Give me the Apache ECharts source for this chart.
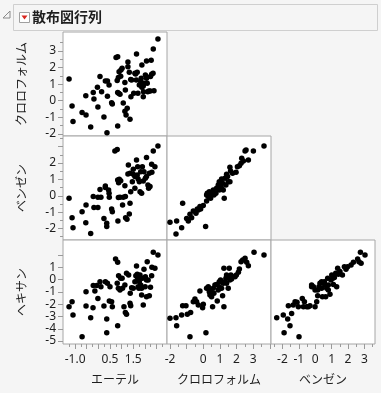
<!DOCTYPE html>
<html><head><meta charset="utf-8">
<script src="https://cdn.jsdelivr.net/npm/echarts@6/dist/echarts.min.js"></script>
<style>html,body{margin:0;padding:0;background:#f5f5f5;}#c{width:381px;height:393px;}</style>
</head><body><div id="c"></div>
<script>
// ---- variable names ----
const varEther = 'エーテル';
const varChloroform = 'クロロフォルム';
const varBenzene = 'ベンゼン';
const varHexane = 'ヘキサン';

// ---- tick labels ----
const etherTickLabels = ['-1.0', '0.5', '1.5'];
const chloroformXTickLabels = ['-2', '0', '1', '2', '3'];
const benzeneXTickLabels = ['-2', '-1', '0', '1', '2', '3'];
const chloroformYTickLabels = ['-2', '-1', '0', '1', '2', '3'];
const benzeneYTickLabels = ['-2', '-1', '0', '1', '2'];
const hexaneYTickLabels = ['-5', '-4', '-3', '-2', '-1', '0', '1'];

// ---- panel data: [x, y] ----
const chloroformVsEther = [[-1.26,1.31],[-1.13,-0.32],[-1.09,-1.26],[-0.70,-0.72],[-0.53,-0.86],[-0.54,0.30],[-0.33,-1.58],[-0.22,0.50],[-0.19,0.10],[-0.02,-0.38],[-0.04,0.81],[0.07,1.45],[0.14,0.54],[0.24,-0.98],[0.30,1.19],[0.37,-1.93],[0.39,1.19],[0.46,0.95],[0.39,0.27],[0.57,-0.12],[0.60,-0.20],[0.76,2.61],[0.83,2.65],[0.89,1.75],[0.86,1.39],[0.81,1.21],[0.83,0.50],[0.87,0.44],[0.83,-1.52],[0.97,1.85],[0.96,1.47],[0.93,0.38],[1.02,1.95],[1.07,-0.14],[1.14,1.09],[1.16,0.64],[1.14,-0.64],[1.19,-0.86],[1.24,-0.46],[1.27,2.33],[1.27,2.05],[1.33,1.71],[1.36,-1.12],[1.39,1.27],[1.40,0.24],[1.43,1.25],[1.52,0.44],[1.60,1.61],[1.63,1.25],[1.57,1.65],[1.64,2.81],[1.67,1.71],[1.70,0.44],[1.76,0.95],[1.82,1.15],[1.84,1.35],[1.87,2.15],[1.87,0.81],[1.93,0.89],[1.93,0.24],[1.94,0.54],[1.96,1.05],[2.07,2.39],[2.10,1.05],[2.12,0.54],[2.17,0.58],[2.23,0.58],[2.24,1.45],[2.27,2.43],[2.29,1.59],[2.35,1.65],[2.36,3.11],[2.39,0.60],[2.56,3.72],[2.07,1.35],[2.02,1.55]];
const benzeneVsEther = [[-1.26,-0.15],[-1.13,-1.34],[-1.09,-1.95],[-0.70,-0.97],[-0.53,-0.56],[-0.54,-1.64],[-0.33,-2.31],[-0.22,-0.05],[-0.19,-0.72],[-0.02,-0.72],[-0.02,-0.09],[0.07,0.39],[0.11,-0.09],[0.24,-1.38],[0.30,0.60],[0.36,-1.68],[0.36,-1.88],[0.30,0.50],[0.44,0.35],[0.46,0.15],[0.47,-0.09],[0.57,-0.81],[0.60,-0.97],[0.71,2.74],[0.81,2.82],[0.83,0.96],[0.87,0.80],[0.86,-0.11],[0.90,1.01],[0.93,-0.09],[0.96,0.92],[0.84,-1.54],[1.04,-0.56],[1.07,-0.09],[1.14,0.62],[1.16,-0.05],[1.17,-1.34],[1.23,-1.44],[1.29,1.88],[1.33,-1.11],[1.27,1.33],[1.36,1.37],[1.39,0.25],[1.36,-0.46],[1.46,0.86],[1.50,1.62],[1.57,0.46],[1.57,1.17],[1.64,2.19],[1.67,1.27],[1.69,1.78],[1.71,1.03],[1.76,0.86],[1.79,0.25],[1.82,1.47],[1.86,0.15],[1.89,1.78],[1.93,0.90],[1.96,1.47],[2.07,2.33],[2.07,1.17],[2.13,0.66],[2.16,0.46],[2.19,1.37],[2.22,0.56],[2.29,1.92],[2.30,1.43],[2.36,2.74],[2.43,1.78],[2.56,3.04],[1.50,1.31],[2.02,1.07]];
const hexaneVsEther = [[-1.26,-2.20],[-1.13,-1.80],[-1.09,-2.88],[-0.70,-4.65],[-0.53,-0.98],[-0.53,-2.15],[-0.33,-3.10],[-0.23,-2.29],[-0.22,-0.49],[-0.15,-0.93],[-0.07,-0.49],[-0.02,-1.53],[0.07,-0.17],[0.11,-0.58],[0.24,-2.15],[0.30,-0.17],[0.36,-3.21],[0.36,-4.32],[0.39,-0.30],[0.47,-1.74],[0.50,-0.58],[0.57,-1.80],[0.60,-2.20],[0.74,1.68],[0.83,1.41],[0.81,-0.30],[0.86,-0.71],[0.83,-3.75],[0.87,0.32],[0.93,-0.85],[0.96,0.10],[1.02,0.10],[1.04,-0.71],[1.10,-2.20],[1.14,-0.44],[1.16,-2.67],[1.21,-2.83],[1.21,0.51],[1.30,0.37],[1.36,-1.93],[1.37,-1.12],[1.39,-2.12],[1.43,-0.66],[1.50,-0.71],[1.57,-0.17],[1.61,0.32],[1.64,1.11],[1.67,0.43],[1.69,0.10],[1.71,-0.58],[1.74,-0.71],[1.76,-0.17],[1.79,0.37],[1.86,-0.71],[1.86,-1.25],[1.89,0.10],[1.93,-2.07],[1.96,0.84],[2.02,0.24],[2.07,-0.03],[2.07,-1.39],[2.10,1.46],[2.14,-0.03],[2.19,-1.31],[2.24,-0.63],[2.29,0.32],[2.30,1.00],[2.36,2.22],[2.43,0.92],[2.56,2.00],[2.01,-0.58],[1.82,-0.44]];
const benzeneVsChloroform = [[-2.00,-1.62],[-1.64,-2.33],[-1.60,-1.54],[-1.30,-1.95],[-1.24,-0.46],[-1.00,-1.38],[-0.90,-1.54],[-0.80,-1.13],[-0.70,-1.34],[-0.60,-0.93],[-0.44,-1.07],[-0.36,-0.81],[-0.20,-0.66],[-0.16,-0.81],[0.00,-0.60],[0.14,-1.88],[0.20,-0.32],[0.30,-0.05],[0.24,0.15],[0.36,0.25],[0.40,0.01],[0.50,0.09],[0.60,0.35],[0.64,0.05],[0.76,0.15],[0.90,0.66],[0.96,0.86],[1.04,0.56],[1.10,1.03],[1.16,0.76],[1.20,0.35],[1.26,-0.15],[1.30,1.07],[1.40,1.31],[1.50,0.86],[1.60,1.74],[1.64,1.51],[1.76,1.37],[1.97,1.43],[2.05,1.78],[2.17,1.84],[2.27,1.98],[2.31,2.29],[2.41,2.12],[2.51,2.74],[2.57,2.80],[2.71,2.19],[3.01,2.74],[3.65,3.04],[0.96,0.35],[0.80,0.46],[0.44,-0.15],[1.36,0.66],[1.10,0.46],[0.20,0.05],[-0.30,-0.87],[1.46,1.17],[1.60,0.86]];
const hexaneVsChloroform = [[-2.00,-3.15],[-1.64,-3.10],[-1.60,-3.75],[-1.30,-2.88],[-1.24,-2.12],[-1.04,-2.12],[-0.96,-2.83],[-0.80,-4.65],[-0.76,-2.67],[-0.60,-1.80],[-0.50,-1.58],[-0.40,-1.80],[-0.30,-2.07],[-0.20,-0.93],[-0.04,-2.29],[0.00,-2.01],[0.16,-4.32],[0.20,-0.71],[0.30,-0.58],[0.36,-0.98],[0.40,-1.25],[0.50,-1.39],[0.56,-2.20],[0.60,-0.71],[0.70,-0.44],[0.80,-0.39],[0.84,-1.74],[0.90,-0.85],[0.96,-0.17],[1.04,-0.03],[1.10,-0.71],[1.16,-1.31],[1.20,-0.30],[1.24,-2.20],[1.30,-0.17],[1.36,0.10],[1.40,0.37],[1.50,-0.71],[1.56,0.92],[1.60,-0.03],[1.66,0.37],[1.76,0.24],[1.91,0.24],[1.99,0.37],[2.11,0.59],[2.17,0.86],[2.27,1.46],[2.37,1.60],[2.51,1.73],[2.61,1.41],[2.71,1.13],[3.05,2.22],[3.65,2.00],[0.44,-0.85],[0.64,-1.12],[1.24,0.92],[0.96,-0.58],[1.40,-0.30],[1.50,0.18],[1.70,0.05]];
const hexaneVsBenzene = [[-2.35,-3.10],[-1.95,-2.88],[-1.90,-4.32],[-1.68,-3.21],[-1.54,-3.75],[-1.64,-2.12],[-1.44,-2.75],[-1.34,-2.07],[-1.23,-1.80],[-1.11,-1.85],[-0.99,-4.65],[-1.03,-2.20],[-0.79,-1.53],[-0.72,-2.20],[-0.66,-1.80],[-0.52,-2.20],[-0.42,-2.20],[-0.32,-2.12],[-0.22,-0.44],[-0.11,-0.58],[-0.01,-2.20],[0.09,-1.80],[0.15,-0.85],[0.15,-1.31],[0.23,-0.58],[0.29,-0.30],[0.39,-0.71],[0.44,-1.39],[0.50,-0.30],[0.56,-0.17],[0.60,-0.44],[0.64,-1.39],[0.70,-0.71],[0.76,0.10],[0.80,-0.44],[0.90,-1.20],[0.96,-0.03],[1.01,0.37],[1.07,0.10],[1.11,-0.39],[1.17,0.16],[1.25,0.51],[1.31,-0.58],[1.37,0.92],[1.41,0.43],[1.51,0.65],[1.66,0.37],[1.78,1.05],[1.88,0.84],[1.98,1.05],[2.19,1.19],[2.33,1.41],[2.59,1.68],[2.67,1.46],[2.76,2.22],[2.80,1.32],[3.04,2.00],[-0.01,-0.85],[0.39,-0.17],[0.80,-0.85],[-0.22,-0.58]];

// ---- layout / scales ----
const colLeft = [63, 167, 271], rowTop = [32, 136, 240], cell = 104;
function steps(a, b, s) { const r = []; for (let v = a; v <= b + 1e-9; v += s) r.push(+v.toFixed(4)); return r; }
const cols = [
  { name: varEther, range: [-1.52, 2.95], labels: etherTickLabels, major: steps(-1, 2.5, 0.5), minor: steps(-1.25, 2.75, 0.5), dec: 1 },
  { name: varChloroform, range: [-2.18, 4.07], labels: chloroformXTickLabels, major: steps(-2, 4, 1), minor: steps(-1.5, 3.5, 1), dec: 0 },
  { name: varBenzene, range: [-2.70, 3.65], labels: benzeneXTickLabels, major: steps(-2, 3, 1), minor: steps(-2.5, 3.5, 1), dec: 0 }
];
const rows = [
  { name: varChloroform, range: [-2.13, 4.14], labels: chloroformYTickLabels, major: steps(-2, 3, 1), minor: steps(-1.5, 3.5, 1) },
  { name: varBenzene, range: [-2.70, 3.65], labels: benzeneYTickLabels, major: steps(-2, 3, 1), minor: steps(-2.5, 3.5, 1) },
  { name: varHexane, range: [-5.24, 3.22], labels: hexaneYTickLabels, major: steps(-5, 2, 1), minor: [] }
];
const panels = [
  { r: 0, c: 0, data: chloroformVsEther },
  { r: 1, c: 0, data: benzeneVsEther },
  { r: 1, c: 1, data: benzeneVsChloroform },
  { r: 2, c: 0, data: hexaneVsEther },
  { r: 2, c: 1, data: hexaneVsChloroform },
  { r: 2, c: 2, data: hexaneVsBenzene }
];

const labelStyle = { color: '#1e1e1e', fontSize: 12, fontFamily: 'Noto Sans, sans-serif' };
const nameStyle = { color: '#1e1e1e', fontSize: 12, fontFamily: 'Noto Sans CJK JP, sans-serif' };
const tickColor = '#9a9a9a';
const noLine = { show: false, onZero: false };

const grid = [], xAxis = [], yAxis = [], series = [];
panels.forEach((p, gi) => {
  grid.push({ left: colLeft[p.c], top: rowTop[p.r], width: cell, height: cell, show: true,
    backgroundColor: '#ffffff', borderColor: '#a6a6a6', borderWidth: 1, containLabel: false, outerBoundsMode: 'none' });
  const cx = cols[p.c], ry = rows[p.r];
  const showX = p.r === 2, showY = p.c === 0;
  const xi = xAxis.length;
  xAxis.push({ type: 'value', gridIndex: gi, min: cx.range[0], max: cx.range[1], position: 'bottom',
    axisLine: noLine, splitLine: { show: false },
    axisTick: { show: showX, customValues: cx.major, length: 5, lineStyle: { color: tickColor } },
    axisLabel: { show: showX, customValues: cx.labels.map(Number), margin: 10, ...labelStyle,
      formatter: v => v.toFixed(cx.dec) },
    name: showX ? cx.name : '', nameLocation: 'middle', nameGap: 29, nameTextStyle: nameStyle });
  if (showX) {
    xAxis.push({ type: 'value', gridIndex: gi, min: cx.range[0], max: cx.range[1], position: 'bottom',
      axisLine: noLine, splitLine: { show: false }, axisLabel: { show: false },
      axisTick: { show: true, customValues: cx.minor, length: 3, lineStyle: { color: tickColor } } });
  }
  const yi = yAxis.length;
  yAxis.push({ type: 'value', gridIndex: gi, min: ry.range[0], max: ry.range[1], position: 'left',
    axisLine: noLine, splitLine: { show: false },
    axisTick: { show: showY, customValues: ry.major, length: 5, lineStyle: { color: tickColor } },
    axisLabel: { show: showY, customValues: ry.labels.map(Number), margin: 7, ...labelStyle,
      formatter: v => String(v) },
    name: showY ? ry.name : '', nameLocation: 'middle', nameRotate: 90, nameGap: 36, nameTextStyle: nameStyle });
  if (showY && ry.minor.length) {
    yAxis.push({ type: 'value', gridIndex: gi, min: ry.range[0], max: ry.range[1], position: 'left',
      axisLine: noLine, splitLine: { show: false }, axisLabel: { show: false },
      axisTick: { show: true, customValues: ry.minor, length: 3, lineStyle: { color: tickColor } } });
  }
  series.push({ type: 'scatter', xAxisIndex: xi, yAxisIndex: yi, data: p.data, symbol: 'circle',
    symbolSize: 5.5, itemStyle: { color: '#000', opacity: 1 }, silent: true });
});

const chart = echarts.init(document.getElementById('c'), null, { renderer: 'canvas' });
chart.setOption({
  backgroundColor: '#f5f5f5',
  animation: false,
  grid, xAxis, yAxis, series,
  graphic: [
    { type: 'rect', shape: { x: 13.5, y: 4.5, width: 364, height: 26 }, style: { fill: '#f5f5f5', stroke: '#cfcfcf', lineWidth: 1 }, silent: true },
    { type: 'polygon', shape: { points: [[3, 18], [10, 18], [10, 11]] }, style: { fill: 'none', stroke: '#8a8a8a', lineWidth: 1 }, silent: true },
    { type: 'rect', shape: { x: 19.5, y: 12.5, width: 10, height: 10 }, style: { fill: '#ffffff', stroke: '#a0a0a0', lineWidth: 1 }, silent: true },
    { type: 'polygon', shape: { points: [[21.5, 15.5], [27.5, 15.5], [24.5, 19.5]] }, style: { fill: '#d8261e' }, silent: true },
    { type: 'text', x: 32, y: 17, style: { text: '散布図行列', fill: '#1e1e1e', font: 'bold 14px "Noto Sans CJK JP", sans-serif', verticalAlign: 'middle' }, silent: true }
  ]
});
</script></body></html>
